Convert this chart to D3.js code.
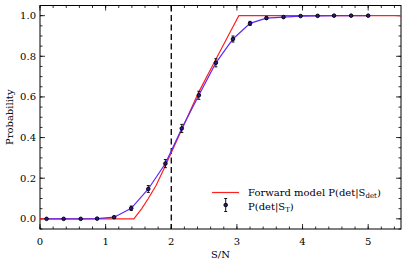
<!DOCTYPE html>
<html>
  <head>
    <meta charset="utf-8" />
    <title>Detection probability</title>
    <script src="https://d3js.org/d3.v7.min.js"></script>
    <style>
        body{
            margin: 0;
            background: #fff;
        }
        text{
            font-family: "DejaVu Serif", serif;
            font-size: 10px;
            fill: #000;
        }
    </style>
  </head>
  <body>
    <svg id="vis"></svg>

    <script>
        var width = 407;
        var height = 265;

        // measured detection fraction P(det|S_T)
        var snr = [0.10, 0.36, 0.62, 0.87, 1.13, 1.39, 1.65, 1.91, 2.16, 2.42,
                   2.68, 2.94, 3.20, 3.45, 3.71, 3.97, 4.23, 4.48, 4.74, 5.00];
        var prob = [0.0, 0.0, 0.0, 0.001, 0.008, 0.052, 0.147, 0.272, 0.445, 0.608,
                    0.768, 0.885, 0.962, 0.988, 0.993, 0.998, 0.999, 1.0, 1.0, 1.0];
        var probErr = [0.002, 0.002, 0.002, 0.003, 0.005, 0.011, 0.017, 0.02, 0.02, 0.02,
                       0.02, 0.015, 0.01, 0.006, 0.004, 0.003, 0.003, 0.002, 0.002, 0.002];

        // forward model P(det|S_det)
        var modelSnr = [0.0, 1.43, 1.55, 1.65, 1.77, 1.88, 2.0, 2.16, 2.42, 2.68, 2.94, 3.03, 5.5];
        var modelProb = [0.0, 0.0, 0.05, 0.10, 0.165, 0.24, 0.325, 0.44, 0.625, 0.785, 0.945, 1.0, 1.0];

        var xTicks = [0, 1, 2, 3, 4, 5];
        var yTicks = [0.0, 0.2, 0.4, 0.6, 0.8, 1.0];
        var threshold = 2;

        var margin = {left: 40, right: 6, top: 5.5, bottom: 36};
        var x0 = margin.left, x1 = width - margin.right;
        var y0 = margin.top, y1 = height - margin.bottom;

        var svg = d3.select("#vis").attr("width", width).attr("height", height);

        var x = d3.scaleLinear().domain([0, 5.5]).range([x0, x1]);
        var y = d3.scaleLinear().domain([-0.05, 1.05]).range([y1, y0]);

        var plot = svg.append("g");

        // ticks, drawn inward on all four sides
        var xMinor = d3.range(0, 5.51, 0.2);
        var yMinor = d3.range(-0.05, 1.051, 0.05);

        function tickPath(vals, len, axis) {
            return vals.map(function(v) {
                if (axis === "x") {
                    var px = x(v);
                    return "M" + px + "," + y1 + "v" + (-len) + "M" + px + "," + y0 + "v" + len;
                }
                var py = y(v);
                return "M" + x0 + "," + py + "h" + len + "M" + x1 + "," + py + "h" + (-len);
            }).join("");
        }

        plot.append("path")
            .attr("d", tickPath(xMinor, 2.5, "x") + tickPath(yMinor, 2.5, "y") +
                       tickPath(xTicks, 5, "x") + tickPath(yTicks, 5, "y"))
            .attr("stroke", "#000").attr("stroke-width", 0.8).attr("fill", "none");

        plot.append("rect")
            .attr("x", x0).attr("y", y0)
            .attr("width", x1 - x0).attr("height", y1 - y0)
            .attr("fill", "none").attr("stroke", "#000").attr("stroke-width", 1);

        // tick labels
        svg.selectAll(".xl").data(xTicks).enter().append("text")
            .attr("x", function(d) { return x(d); })
            .attr("y", y1 + 16)
            .attr("text-anchor", "middle")
            .text(function(d) { return d; });

        svg.selectAll(".yl").data(yTicks).enter().append("text")
            .attr("x", x0 - 4)
            .attr("y", function(d) { return y(d) + 3.5; })
            .attr("text-anchor", "end")
            .text(function(d) { return d.toFixed(1); });

        svg.append("text")
            .attr("x", (x0 + x1) / 2).attr("y", 258)
            .attr("text-anchor", "middle")
            .text("S/N");

        svg.append("text")
            .attr("transform", "translate(13," + ((y0 + y1) / 2) + ") rotate(-90)")
            .attr("text-anchor", "middle")
            .text("Probability");

        // threshold
        plot.append("line")
            .attr("x1", x(threshold)).attr("x2", x(threshold))
            .attr("y1", y0).attr("y2", y1)
            .attr("stroke", "#000").attr("stroke-width", 1.3)
            .attr("stroke-dasharray", "6,3.5");

        var line = d3.line()
            .x(function(d) { return x(d[0]); })
            .y(function(d) { return y(d[1]); });

        plot.append("path")
            .attr("d", line(d3.zip(modelSnr, modelProb)))
            .attr("fill", "none").attr("stroke", "#ff2020").attr("stroke-width", 1.2);

        plot.append("path")
            .attr("d", line(d3.zip(snr, prob)))
            .attr("fill", "none").attr("stroke", "#5a28ff").attr("stroke-width", 1.2);

        // error bars + markers
        var pts = plot.selectAll(".pt").data(d3.range(snr.length)).enter().append("g")
            .attr("transform", function(i) { return "translate(" + x(snr[i]) + "," + y(prob[i]) + ")"; });

        pts.append("path")
            .attr("d", function(i) {
                var e = y(prob[i] - probErr[i]) - y(prob[i]);
                return "M0," + (-e) + "V" + e + "M-1.5," + (-e) + "h3M-1.5," + e + "h3";
            })
            .attr("stroke", "#000").attr("stroke-width", 0.9).attr("fill", "none");

        pts.append("circle")
            .attr("r", 1.8)
            .attr("fill", "#2a1a80").attr("stroke", "#000").attr("stroke-width", 0.9);

        // legend
        var leg = svg.append("g");
        leg.append("line")
            .attr("x1", 212).attr("x2", 239).attr("y1", 192.5).attr("y2", 192.5)
            .attr("stroke", "#ff2020").attr("stroke-width", 1.2);

        var t1 = leg.append("text").attr("x", 248).attr("y", 196);
        t1.append("tspan").text("Forward model P(det|S");
        t1.append("tspan").attr("dy", 2).attr("font-size", "7px").text("det");
        t1.append("tspan").attr("dy", -2).text(")");

        leg.append("path")
            .attr("d", "M225.7,198.5V211.5M224.2,198.5h3M224.2,211.5h3")
            .attr("stroke", "#000").attr("stroke-width", 0.9);
        leg.append("circle")
            .attr("cx", 225.7).attr("cy", 205).attr("r", 1.8)
            .attr("fill", "#2a1a80").attr("stroke", "#000").attr("stroke-width", 0.9);

        var t2 = leg.append("text").attr("x", 248).attr("y", 209.5);
        t2.append("tspan").text("P(det|S");
        t2.append("tspan").attr("dy", 2).attr("font-size", "7px").text("T");
        t2.append("tspan").attr("dy", -2).text(")");
    </script>
  </body>
</html>
